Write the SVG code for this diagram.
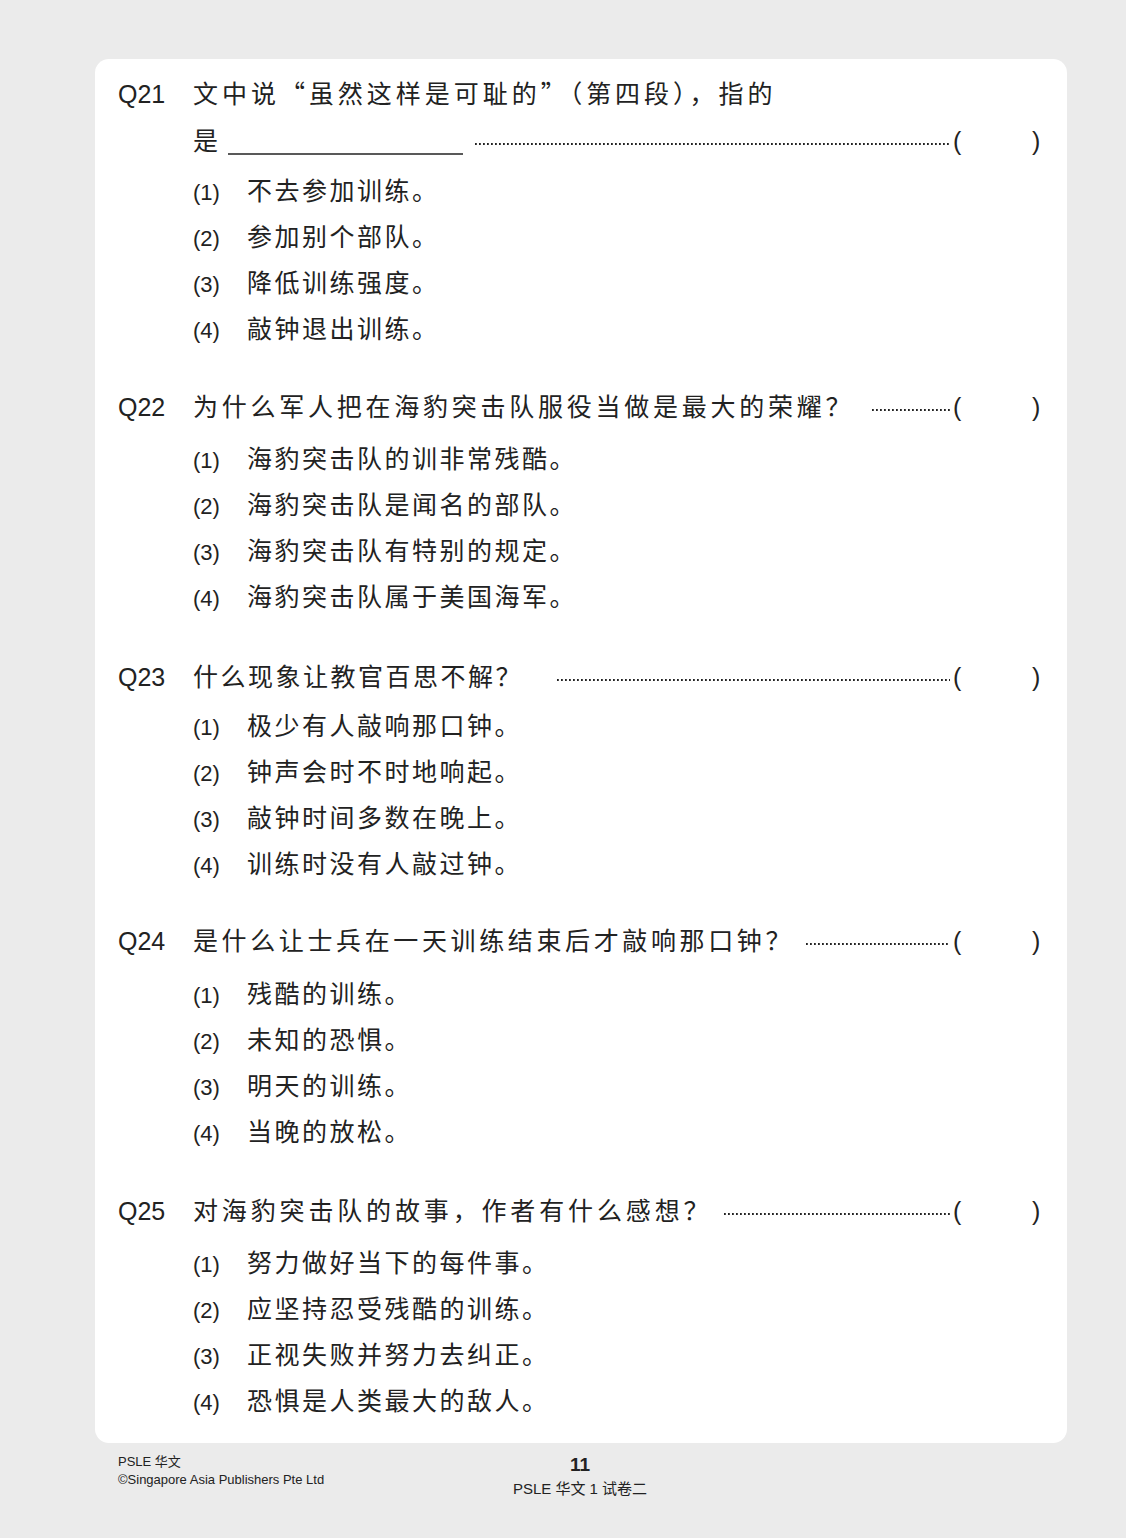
<svg xmlns="http://www.w3.org/2000/svg" width="1126" height="1538" viewBox="0 0 1126 1538">
<style>
.q{font-family:"Liberation Sans",Arial,sans-serif;font-size:25px;fill:#222}
.c{font-family:"Noto Sans CJK SC","Liberation Sans",sans-serif;font-size:25px;fill:#222;letter-spacing:2.5px}
.n{font-family:"Liberation Sans",Arial,sans-serif;font-size:22px;fill:#222}
.d{stroke:#222;stroke-width:1.8;stroke-dasharray:1.8 2.2;fill:none}
.f{font-family:"Liberation Sans","Noto Sans CJK SC",sans-serif;fill:#222}
</style>
<rect width="1126" height="1538" fill="#ebebeb"/>
<rect x="95" y="59" width="972" height="1384" rx="14" fill="#fff"/>
<g id="q21">
<text class="q" x="118" y="103">Q21</text>
<text class="c" x="193" y="103" textLength="582" lengthAdjust="spacing">文中说“虽然这样是可耻的”（第四段），指的</text>
<text class="c" x="193" y="150">是</text>
<line x1="228" y1="154" x2="463" y2="154" stroke="#222" stroke-width="1.5"/>
<line class="d" x1="475" y1="144" x2="950" y2="144"/>
<text class="q" x="953" y="150">(</text><text class="q" x="1032" y="150">)</text>
<text class="n" x="193" y="200">(1)</text><text class="c" x="247" y="200">不去参加训练。</text>
<text class="n" x="193" y="246">(2)</text><text class="c" x="247" y="246">参加别个部队。</text>
<text class="n" x="193" y="292">(3)</text><text class="c" x="247" y="292">降低训练强度。</text>
<text class="n" x="193" y="338">(4)</text><text class="c" x="247" y="338">敲钟退出训练。</text>
</g>
<g id="q22">
<text class="q" x="118" y="416">Q22</text>
<text class="c" x="193" y="416" textLength="660" lengthAdjust="spacing">为什么军人把在海豹突击队服役当做是最大的荣耀？</text>
<line class="d" x1="872" y1="410" x2="950" y2="410"/>
<text class="q" x="953" y="416">(</text><text class="q" x="1032" y="416">)</text>
<text class="n" x="193" y="468">(1)</text><text class="c" x="247" y="468">海豹突击队的训非常残酷。</text>
<text class="n" x="193" y="514">(2)</text><text class="c" x="247" y="514">海豹突击队是闻名的部队。</text>
<text class="n" x="193" y="560">(3)</text><text class="c" x="247" y="560">海豹突击队有特别的规定。</text>
<text class="n" x="193" y="606">(4)</text><text class="c" x="247" y="606">海豹突击队属于美国海军。</text>
</g>
<g id="q23">
<text class="q" x="118" y="686">Q23</text>
<text class="c" x="193" y="686" textLength="330" lengthAdjust="spacing">什么现象让教官百思不解？</text>
<line class="d" x1="557" y1="680" x2="950" y2="680"/>
<text class="q" x="953" y="686">(</text><text class="q" x="1032" y="686">)</text>
<text class="n" x="193" y="735">(1)</text><text class="c" x="247" y="735">极少有人敲响那口钟。</text>
<text class="n" x="193" y="781">(2)</text><text class="c" x="247" y="781">钟声会时不时地响起。</text>
<text class="n" x="193" y="827">(3)</text><text class="c" x="247" y="827">敲钟时间多数在晚上。</text>
<text class="n" x="193" y="873">(4)</text><text class="c" x="247" y="873">训练时没有人敲过钟。</text>
</g>
<g id="q24">
<text class="q" x="118" y="950">Q24</text>
<text class="c" x="193" y="950" textLength="600" lengthAdjust="spacing">是什么让士兵在一天训练结束后才敲响那口钟？</text>
<line class="d" x1="806" y1="944" x2="950" y2="944"/>
<text class="q" x="953" y="950">(</text><text class="q" x="1032" y="950">)</text>
<text class="n" x="193" y="1003">(1)</text><text class="c" x="247" y="1003">残酷的训练。</text>
<text class="n" x="193" y="1049">(2)</text><text class="c" x="247" y="1049">未知的恐惧。</text>
<text class="n" x="193" y="1095">(3)</text><text class="c" x="247" y="1095">明天的训练。</text>
<text class="n" x="193" y="1141">(4)</text><text class="c" x="247" y="1141">当晚的放松。</text>
</g>
<g id="q25">
<text class="q" x="118" y="1220">Q25</text>
<text class="c" x="193" y="1220" textLength="518" lengthAdjust="spacing">对海豹突击队的故事，作者有什么感想？</text>
<line class="d" x1="724" y1="1214" x2="950" y2="1214"/>
<text class="q" x="953" y="1220">(</text><text class="q" x="1032" y="1220">)</text>
<text class="n" x="193" y="1272">(1)</text><text class="c" x="247" y="1272">努力做好当下的每件事。</text>
<text class="n" x="193" y="1318">(2)</text><text class="c" x="247" y="1318">应坚持忍受残酷的训练。</text>
<text class="n" x="193" y="1364">(3)</text><text class="c" x="247" y="1364">正视失败并努力去纠正。</text>
<text class="n" x="193" y="1410">(4)</text><text class="c" x="247" y="1410">恐惧是人类最大的敌人。</text>
</g>
<g id="footer">
<text class="f" x="118" y="1466" font-size="13">PSLE 华文</text>
<text class="f" x="118" y="1484" font-size="13">©Singapore Asia Publishers Pte Ltd</text>
<text class="f" x="580" y="1471" font-size="19" font-weight="bold" text-anchor="middle">11</text>
<text class="f" x="580" y="1494" font-size="15" text-anchor="middle">PSLE 华文 1  试卷二</text>
</g>
</svg>
